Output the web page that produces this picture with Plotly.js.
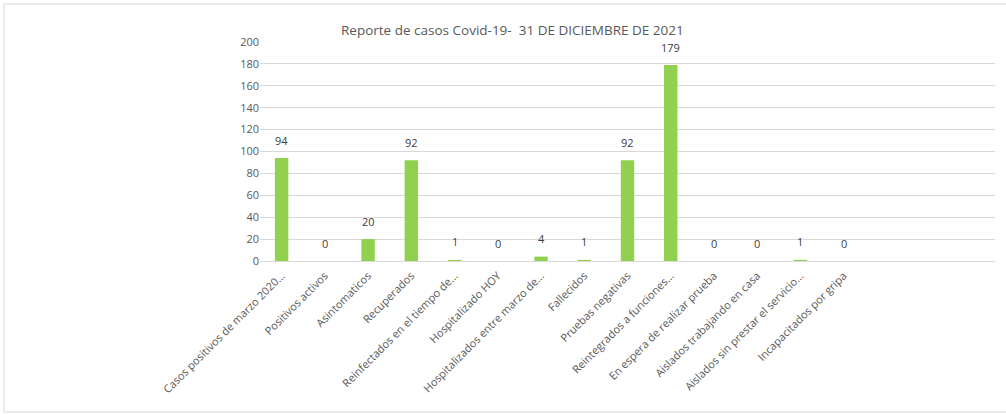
<!DOCTYPE html>
<html>
<head>
<meta charset="utf-8">
<script src="https://cdn.plot.ly/plotly-3.0.1.min.js"></script>
<style>html,body{margin:0;padding:0;background:#fff;}#chart{width:1006px;height:414px;}</style>
</head>
<body>
<div id="chart"></div>
<script>
const categories = [
  "Casos positivos de marzo 2020…",
  "Positivos activos",
  "Asintomaticos",
  "Recuperados",
  "Reinfectados en el tiempo de…",
  "Hospitalizado HOY",
  "Hospitalizados entre marzo de…",
  "Fallecidos",
  "Pruebas negativas",
  "Reintegrados a funciones…",
  "En espera de realizar prueba",
  "Aislados trabajando en casa",
  "Aislados sin prestar el servicio…",
  "Incapacitados por gripa"
];
const values = [94, 0, 20, 92, 1, 0, 4, 1, 92, 179, 0, 0, 1, 0];
const yTicks = [0, 20, 40, 60, 80, 100, 120, 140, 160, 180, 200];
const titleText = "Reporte de casos Covid-19-  31 DE DICIEMBRE DE 2021";

const idx = categories.map((c, i) => i);
const font = "'Open Sans', 'Noto Sans', sans-serif";

const trace = {
  type: "bar",
  x: idx,
  y: values,
  width: 0.31,
  marker: {color: "#92d050"},
  hoverinfo: "x+y"
};

const annotations = idx.map(i => ({
  x: i, y: values[i], xref: "x", yref: "y",
  text: String(values[i]), showarrow: false,
  yanchor: "middle", yshift: 18,
  font: {family: font, size: 11, color: "#404040"}
}));
annotations.push({
  xref: "paper", yref: "paper", x: (512 - 260) / 735, y: (261 - 30) / 219,
  xanchor: "center", yanchor: "middle", showarrow: false,
  text: titleText,
  font: {family: font, size: 13.5, color: "#595959"}
});

const layout = {
  width: 1006, height: 414,
  margin: {l: 260, r: 11, t: 42, b: 153, pad: 0},
  paper_bgcolor: "#ffffff", plot_bgcolor: "#ffffff",
  showlegend: false,
  font: {family: font, color: "#595959"},
  xaxis: {
    range: [-0.5, 16.5],
    tickmode: "array",
    tickvals: idx,
    ticktext: categories,
    tickangle: -45,
    tickfont: {family: font, size: 11, color: "#595959"},
    showgrid: false, zeroline: false,
    showline: false, ticks: "outside", ticklen: 3, tickcolor: "rgba(0,0,0,0)",
    fixedrange: true
  },
  yaxis: {
    range: [0, 200],
    tickmode: "array",
    tickvals: yTicks,
    tickfont: {family: font, size: 11, color: "#595959"},
    showgrid: true, gridcolor: "#d9d9d9", gridwidth: 1,
    zeroline: true, zerolinecolor: "#d9d9d9", zerolinewidth: 1,
    showline: false, ticks: "", ticklen: 0,
    fixedrange: true
  },
  annotations: annotations,
  shapes: [{
    type: "rect", xref: "paper", yref: "paper",
    x0: (4 - 260) / 735, x1: (1012 - 260) / 735,
    y0: (261 - 412) / 219, y1: (261 - 4) / 219,
    line: {color: "#d9d9d9", width: 1}, fillcolor: "rgba(0,0,0,0)",
    layer: "below"
  }]
};

Plotly.newPlot("chart", [trace], layout, {displayModeBar: false, staticPlot: true});
</script>
</body>
</html>
